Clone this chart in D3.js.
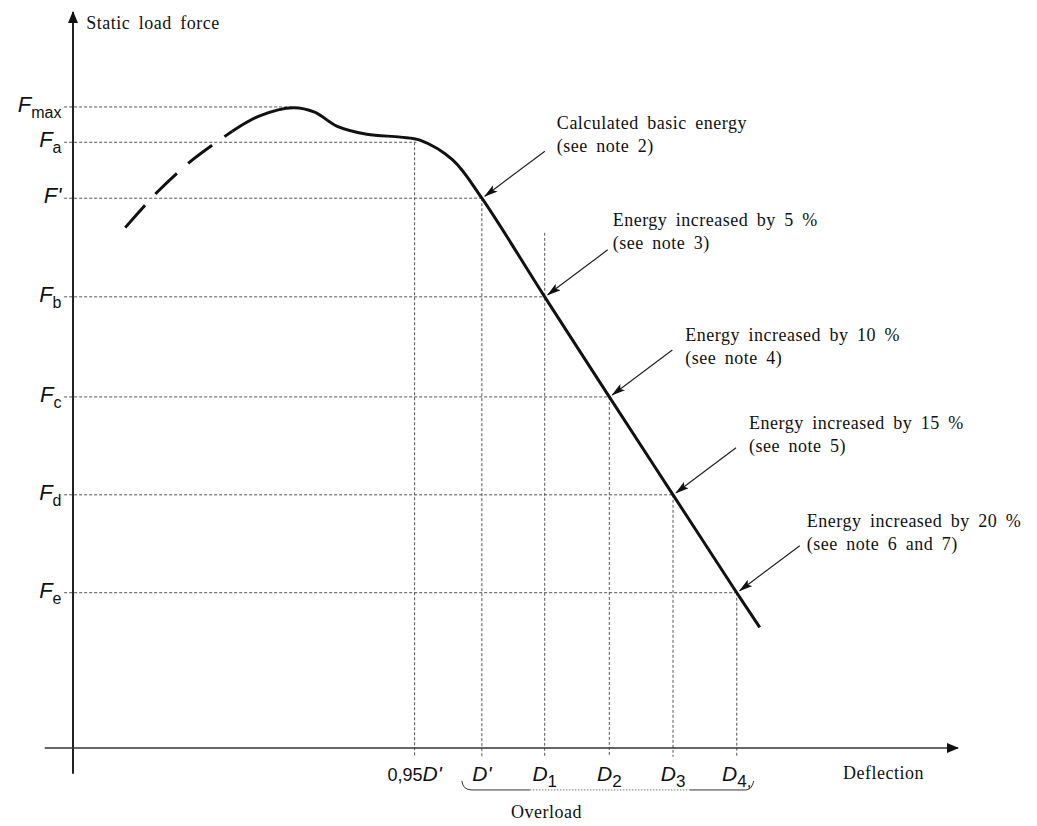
<!DOCTYPE html>
<html>
<head>
<meta charset="utf-8">
<script src="https://cdn.jsdelivr.net/npm/d3@7"></script>
<style>
  body { margin: 0; background: #fff; }
  .serif { font-family: 'Liberation Serif', serif; font-size: 18px; letter-spacing: 0.5px; word-spacing: 3.5px; fill: #111; }
  .sym { font-family: 'Liberation Sans', Arial, sans-serif; fill: #111; }
</style>
</head>
<body>
<script>
// Force levels on the vertical axis (arbitrary units, 0..100)
const forceNames = ['max', 'a', "'", 'b', 'c', 'd', 'e'];
const forceValues = [87.1, 82.3, 74.7, 61.3, 47.7, 34.4, 21.1];
// deflection at which each force guide line meets the curve
const forceReach = [24.9, 38.8, 46.2, 53.3, 60.6, 67.8, 75.0];

// Deflection marks on the horizontal axis
const deflectionPrefix = ['0,95', '', '', '', '', ''];
const deflectionNames = ["D'", "D'", 'D', 'D', 'D', 'D'];
const deflectionSubs = ['', '', '1', '2', '3', '4'];
const deflectionValues = [38.6, 46.2, 53.3, 60.6, 67.8, 75.0];
const deflectionTop = [82.3, 74.7, 70.0, 47.7, 34.4, 21.1];

// Load-deflection curve: dashed rising part, then the solid part
const dashedX = [5.9, 9.5, 13.6, 18.0];
const dashedY = [70.7, 75.5, 80.0, 83.8];
const solidX = [18.0, 21.1, 24.9, 27.3, 29.8, 33.2, 37.0, 39.2, 42.9, 46.2, 53.3, 60.6, 67.8, 75.0, 77.6];
const solidY = [83.8, 85.9, 87.0, 86.4, 84.5, 83.4, 83.0, 82.6, 79.9, 74.7, 61.3, 47.7, 34.4, 21.1, 16.4];

// Annotations pointing at the curve
const notePoints = [1, 2, 3, 4, 5]; // index into deflectionValues
const noteLine1 = ['Calculated basic energy', 'Energy increased by 5 %', 'Energy increased by 10 %', 'Energy increased by 15 %', 'Energy increased by 20 %'];
const noteLine2 = ['(see note 2)', '(see note 3)', '(see note 4)', '(see note 5)', '(see note 6 and 7)'];
const noteOffsets = [[72, -74], [65, -75], [73, -60], [73, -70], [67, -70]];

const width = 1037;
const height = 826;

const svg = d3.select('body').append('svg')
    .attr('width', width)
    .attr('height', height);

const x = d3.scaleLinear().domain([0, 100]).range([73, 958]);
const y = d3.scaleLinear().domain([0, 100]).range([748, 12]);

const defs = svg.append('defs');
defs.append('marker')
    .attr('id', 'head')
    .attr('markerUnits', 'userSpaceOnUse')
    .attr('viewBox', '0 0 14 8')
    .attr('markerWidth', 14)
    .attr('markerHeight', 8)
    .attr('refX', 13)
    .attr('refY', 4)
    .attr('orient', 'auto')
  .append('path')
    .attr('d', 'M0,0 L14,4 L0,8 L3,4 Z')
    .attr('fill', '#111');

defs.append('marker')
    .attr('id', 'axisHead')
    .attr('markerUnits', 'userSpaceOnUse')
    .attr('viewBox', '0 0 12 10')
    .attr('markerWidth', 12)
    .attr('markerHeight', 10)
    .attr('refX', 11)
    .attr('refY', 5)
    .attr('orient', 'auto')
  .append('path')
    .attr('d', 'M0,0 L12,5 L0,10 Z')
    .attr('fill', '#111');

// ------- Guide lines -------

const guides = svg.append('g').attr('class', 'guides')
    .attr('stroke', '#555')
    .attr('stroke-width', 1)
    .attr('stroke-dasharray', '3,2');

guides.selectAll('line.h')
    .data(forceValues)
    .enter()
    .append('line')
        .attr('class', 'h')
        .attr('x1', x(-1))
        .attr('x2', (d, i) => x(forceReach[i]))
        .attr('y1', d => y(d))
        .attr('y2', d => y(d));

guides.selectAll('line.v')
    .data(deflectionValues)
    .enter()
    .append('line')
        .attr('class', 'v')
        .attr('x1', d => x(d))
        .attr('x2', d => x(d))
        .attr('y1', (d, i) => y(deflectionTop[i]))
        .attr('y2', y(-1.2));

// ------- Axes -------

svg.append('line')
    .attr('x1', x(0)).attr('x2', x(0))
    .attr('y1', y(-3.5)).attr('y2', y(100))
    .attr('stroke', '#222')
    .attr('stroke-width', 2)
    .attr('marker-end', 'url(#axisHead)');

svg.append('line')
    .attr('x1', x(-3.2)).attr('x2', x(100))
    .attr('y1', y(0)).attr('y2', y(0))
    .attr('stroke', '#333')
    .attr('stroke-width', 1.3)
    .attr('marker-end', 'url(#axisHead)');

svg.append('text')
    .attr('class', 'serif')
    .attr('x', x(1.5))
    .attr('y', y(98.6))
    .attr('dy', '0.35em')
    .text('Static load force');

svg.append('text')
    .attr('class', 'serif')
    .attr('x', x(87))
    .attr('y', y(-3.4))
    .attr('dy', '0.35em')
    .text('Deflection');

svg.append('text')
    .attr('class', 'serif')
    .attr('text-anchor', 'middle')
    .attr('x', x(53.5))
    .attr('y', y(-8.7))
    .attr('dy', '0.35em')
    .text('Overload');

// ------- Force labels -------

const forceLabel = svg.append('g').selectAll('text')
    .data(forceValues)
    .enter()
    .append('text')
        .attr('class', 'sym')
        .attr('text-anchor', 'end')
        .attr('x', x(-1.3))
        .attr('y', d => y(d) + 5);

forceLabel.append('tspan')
    .attr('font-size', 22)
    .attr('font-style', 'italic')
    .text((d, i) => forceNames[i] === "'" ? "F'" : 'F');

forceLabel.append('tspan')
    .attr('font-size', 16)
    .attr('dy', 6)
    .text((d, i) => forceNames[i] === "'" ? '' : forceNames[i]);

// ------- Deflection labels -------

const defLabel = svg.append('g').selectAll('text')
    .data(deflectionValues)
    .enter()
    .append('text')
        .attr('class', 'sym')
        .attr('text-anchor', 'middle')
        .attr('x', d => x(d))
        .attr('y', y(-3.6) + 7);

defLabel.append('tspan')
    .attr('font-size', 18)
    .text((d, i) => deflectionPrefix[i]);

defLabel.append('tspan')
    .attr('font-size', 21)
    .attr('font-style', 'italic')
    .text((d, i) => deflectionNames[i]);

defLabel.append('tspan')
    .attr('font-size', 17)
    .attr('dy', 6)
    .text((d, i) => deflectionSubs[i] + (i === 5 ? ',' : ''));

// ------- Overload brace -------

const bx0 = x(deflectionValues[1]) - 20;
const bx1 = x(deflectionValues[5]) + 15;
const by = y(-5.7);

const brace = svg.append('g').attr('fill', 'none').attr('stroke', '#333').attr('stroke-width', 1);
brace.append('path')
    .attr('d', `M${bx0},${by - 9} Q${bx0 + 1},${by} ${bx0 + 10},${by} L${bx0 + 68},${by}`);
brace.append('path')
    .attr('stroke-dasharray', '1.5,1.5')
    .attr('stroke', '#777')
    .attr('d', `M${bx0 + 68},${by} L${bx1 - 62},${by}`);
brace.append('path')
    .attr('d', `M${bx1 - 62},${by} L${bx1 - 6},${by} Q${bx1},${by} ${bx1 + 2},${by - 9}`);

// ------- Curve -------

const line = d3.line()
    .x(d => x(d[0]))
    .y(d => y(d[1]))
    .curve(d3.curveCatmullRom.alpha(0.5));

svg.append('path')
    .datum(dashedX.map((v, i) => [v, dashedY[i]]))
    .attr('d', line)
    .attr('fill', 'none')
    .attr('stroke', '#111')
    .attr('stroke-width', 3)
    .attr('stroke-dasharray', '30,15');

svg.append('path')
    .datum(solidX.map((v, i) => [v, solidY[i]]))
    .attr('d', line)
    .attr('fill', 'none')
    .attr('stroke', '#111')
    .attr('stroke-width', 3);

// ------- Annotations -------

const notes = svg.append('g').selectAll('g')
    .data(notePoints)
    .enter()
    .append('g')
        .attr('transform', d => {
            const k = deflectionValues[d];
            const f = forceValues[d + 1];
            return `translate(${x(k) + 3}, ${y(f) - 2})`;
        });

notes.append('line')
    .attr('x1', 60)
    .attr('y1', -45)
    .attr('x2', 0)
    .attr('y2', 0)
    .attr('stroke', '#222')
    .attr('stroke-width', 1.2)
    .attr('marker-end', 'url(#head)');

notes.append('text')
    .attr('class', 'serif')
    .attr('x', (d, i) => noteOffsets[i][0])
    .attr('y', (d, i) => noteOffsets[i][1])
    .attr('dy', '0.35em')
    .text((d, i) => noteLine1[i]);

notes.append('text')
    .attr('class', 'serif')
    .attr('x', (d, i) => noteOffsets[i][0])
    .attr('y', (d, i) => noteOffsets[i][1] + 23)
    .attr('dy', '0.35em')
    .text((d, i) => noteLine2[i]);
</script>
</body>
</html>
